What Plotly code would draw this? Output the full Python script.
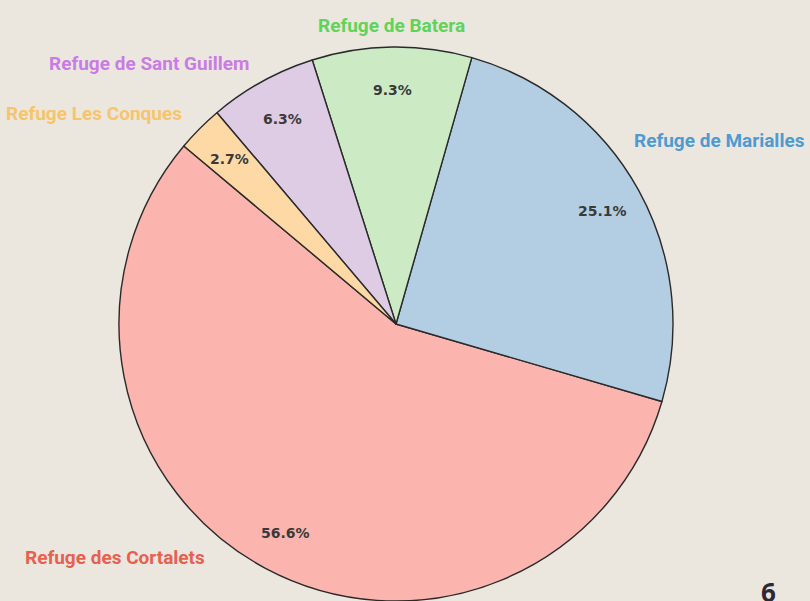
import math
import plotly.graph_objects as go

# ---- data ----
labels = ["Refuge des Cortalets", "Refuge de Marialles", "Refuge de Batera",
          "Refuge de Sant Guillem", "Refuge Les Conques"]
values = [56.6, 25.1, 9.3, 6.3, 2.7]
slice_colors = ["#fbb4ae", "#b3cde3", "#ccebc5", "#decbe4", "#fed9a6"]
label_colors = ["#e8604f", "#4d9bd2", "#5fd35a", "#c97ce4", "#f8c46b"]
page_number = "6"

# ---- layout geometry ----
W, H = 810, 601
BG = "#ebe7df"
cx_px, cy_px = 396, 325           # pie centre (pixels from top-left)
half = 278                          # half size of pie domain (px)
dom_x = [(cx_px - half) / W, (cx_px + half) / W]
dom_y = [max(0, 1 - (cy_px + half) / H), 1 - (cy_px - half) / H]
R = min(half, (H - (cy_px - half)) / 2)   # radius plotly will use
start_math_deg = 140.0              # first slice starts here, going counterclockwise

LABEL_SIZE = 19
LABEL_CHAR_W = 0.48                 # approx. average glyph width (em) of Roboto bold
EDGE = 5

total = sum(values)
first_span = 360 * values[0] / total
# plotly (counterclockwise): rotation marks where the first slice ends
rotation = 90 - (start_math_deg + first_span)
while rotation < -360:
    rotation += 360

fig = go.Figure()
fig.add_trace(go.Pie(
    labels=labels, values=values, sort=False,
    direction="counterclockwise",
    rotation=rotation,
    marker=dict(colors=slice_colors, line=dict(color="#2a2a2a", width=1.4)),
    textinfo="none", hoverinfo="label+percent",
    domain=dict(x=dom_x, y=dom_y), showlegend=False,
))

LABEL_D = 1.08
PCT_D = 0.85
ann = []
acc = start_math_deg
for lab, v, lc in zip(labels, values, label_colors):
    span = 360 * v / total
    mid = math.radians(acc + span / 2)
    acc += span
    c, s = math.cos(mid), math.sin(mid)
    # percentage inside the slice
    px = cx_px + PCT_D * R * c
    py = cy_px - PCT_D * R * s
    ann.append(dict(x=px / W, y=1 - py / H, xref="paper", yref="paper",
                    text=f"{v:.1f}%", showarrow=False,
                    font=dict(family="DejaVu Sans", size=14, color="#3a3a3a", weight="bold"),
                    xanchor="center", yanchor="middle"))
    # label outside: stays on the label circle, slid along it to fit the canvas
    rl = LABEL_D * R
    tw = LABEL_CHAR_W * LABEL_SIZE * len(lab)
    lx = cx_px + rl * c
    ly = cy_px - rl * s
    if ly > H - 44:
        ly = H - 44
        dy = ly - cy_px
        lx = cx_px + math.copysign(math.sqrt(max(rl * rl - dy * dy, 0)), c)
    if c > 0.1 and lx + tw > W - EDGE:
        lx = W - EDGE - tw
        dx = lx - cx_px
        ly = cy_px - math.copysign(math.sqrt(max(rl * rl - dx * dx, 0)), s)
    if c < -0.1 and lx - tw < EDGE:
        lx = EDGE + tw
        dx = lx - cx_px
        ly = cy_px - math.copysign(math.sqrt(max(rl * rl - dx * dx, 0)), s)
    xa = "left" if c > 0.1 else ("right" if c < -0.1 else "center")
    ann.append(dict(x=lx / W, y=1 - ly / H, xref="paper", yref="paper",
                    text=lab, showarrow=False,
                    font=dict(family="Roboto", size=LABEL_SIZE, color=lc, weight="bold"),
                    xanchor=xa, yanchor="middle"))

ann.append(dict(x=768 / W, y=1 - 572 / H, xref="paper", yref="paper",
                text=page_number, showarrow=False,
                font=dict(family="Open Sans", size=26, color="#2b2838", weight="bold"),
                xanchor="center", yanchor="top"))

fig.update_layout(
    width=W, height=H, margin=dict(l=0, r=0, t=0, b=0, pad=0),
    paper_bgcolor=BG, plot_bgcolor=BG, annotations=ann,
)
fig.write_html("out.html", config={"displayModeBar": False},
               post_script="document.body.style.margin='0';document.body.style.background='%s';" % BG)
